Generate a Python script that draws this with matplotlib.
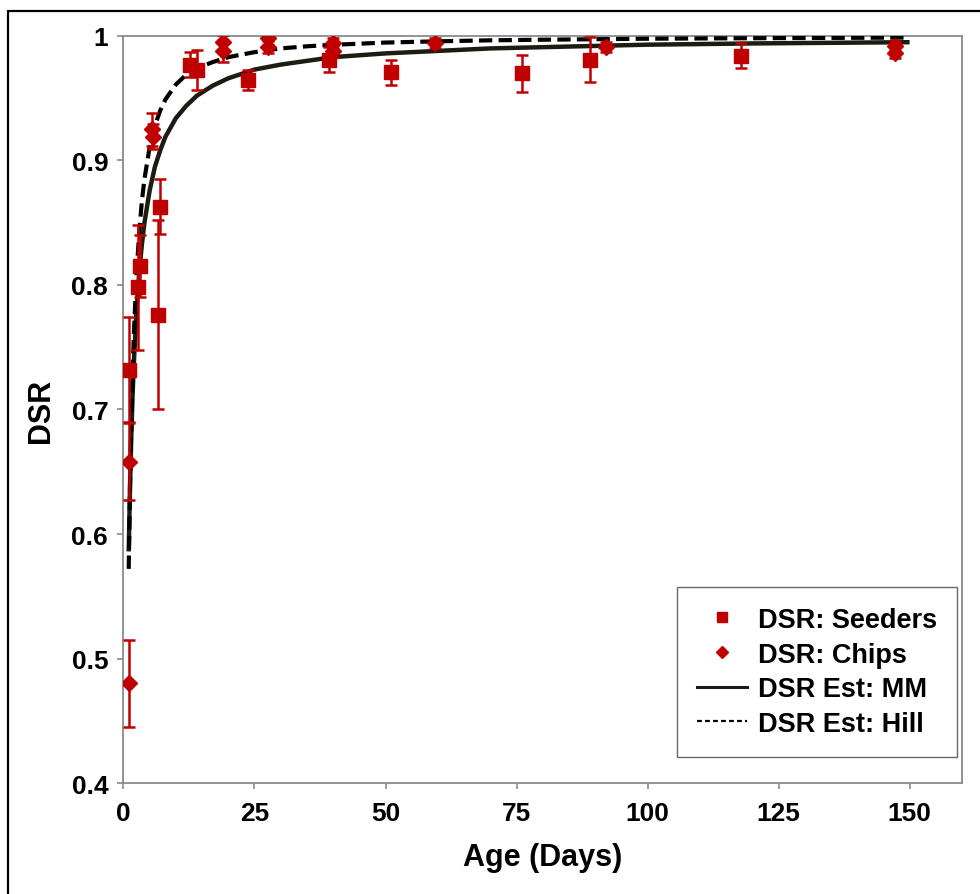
import matplotlib
matplotlib.use("Agg")
import matplotlib.pyplot as plt
from matplotlib.lines import Line2D
from matplotlib.patches import Rectangle

plt.rcParams['font.family'] = ['Liberation Sans', 'DejaVu Sans']

# Observed daily survival rate, seeders
seed_age = [1, 2.7, 3.1, 6.6, 7.0, 12.7, 14, 23.8, 39.2, 51, 76.1, 89.1, 117.8]
seed_dsr = [0.732, 0.798, 0.815, 0.776, 0.863, 0.977, 0.973, 0.965, 0.981, 0.971, 0.970, 0.981, 0.984]
seed_err = [0.042, 0.050, 0.025, 0.076, 0.022, 0.010, 0.016, 0.008, 0.010, 0.010, 0.015, 0.018, 0.010]

# Observed daily survival rate, chips
chip_age = [1, 1, 5.4, 5.6, 19, 19, 27.5, 27.5, 40, 40, 59.5, 92, 147.2, 147.2]
chip_dsr = [0.658, 0.480, 0.925, 0.919, 0.995, 0.988, 0.998, 0.991, 0.994, 0.988, 0.994, 0.991, 0.992, 0.986]
chip_err = [0.031, 0.035, 0.013, 0.010, 0.006, 0.009, 0.005, 0.005, 0.004, 0.005, 0.004, 0.004, 0.004, 0.004]

# Fitted curves (Michaelis-Menten and Hill estimates)
est_age = [1, 1.25, 1.5, 1.75, 2, 2.5, 3, 3.5, 4, 5, 6, 7, 8, 10, 12, 14, 17, 20,
           25, 30, 35, 40, 50, 60, 70, 80, 100, 120, 150]
est_mm = [0.586, 0.639, 0.680, 0.713, 0.739, 0.780, 0.810, 0.832, 0.850, 0.876, 0.895,
          0.908, 0.919, 0.934, 0.944, 0.952, 0.960, 0.966, 0.973, 0.977, 0.980, 0.983,
          0.986, 0.988, 0.990, 0.991, 0.993, 0.994, 0.995]
est_hill = [0.572, 0.639, 0.690, 0.730, 0.762, 0.810, 0.842, 0.867, 0.885, 0.911, 0.928,
            0.940, 0.949, 0.961, 0.969, 0.974, 0.979, 0.983, 0.987, 0.990, 0.9917, 0.9929,
            0.9947, 0.9957, 0.9965, 0.9970, 0.9978, 0.9982, 0.9987]

x_ticks = [0, 25, 50, 75, 100, 125, 150]
y_ticks = [0.4, 0.5, 0.6, 0.7, 0.8, 0.9, 1.0]
y_tick_labels = ['0.4', '0.5', '0.6', '0.7', '0.8', '0.9', '1']

red = '#C00000'
grey = '#8a8a8a'

fig = plt.figure(figsize=(9.8, 8.95), dpi=100)
ax = fig.add_axes([0.126, 0.124, 0.8556, 0.8347])

ax.plot(est_age, est_mm, color='#1c1c12', lw=3.2, solid_capstyle='butt', zorder=3)
ax.plot(est_age, est_hill, color='black', lw=3.0, dashes=(3.2, 1.5), zorder=3)

ax.errorbar(seed_age, seed_dsr, yerr=seed_err, fmt='s', ms=9.5, color=red,
            ecolor=red, elinewidth=1.8, capsize=4, capthick=1.8, zorder=4)
ax.errorbar(chip_age, chip_dsr, yerr=chip_err, fmt='D', ms=8.5, color=red,
            ecolor=red, elinewidth=1.8, capsize=4, capthick=1.8, zorder=4)

ax.set_xlim(0, 160)
ax.set_ylim(0.4, 1.0)
ax.set_xticks(x_ticks)
ax.set_xticklabels([str(t) for t in x_ticks])
ax.set_yticks(y_ticks)
ax.set_yticklabels(y_tick_labels)

for side in ['left', 'bottom', 'top', 'right']:
    ax.spines[side].set_color(grey)
    ax.spines[side].set_linewidth(1.3)
ax.tick_params(axis='both', direction='out', length=4, width=1.2, color=grey,
               labelsize=19)
ax.tick_params(axis='x', pad=9)
ax.tick_params(axis='y', pad=7)
for lab in ax.get_xticklabels() + ax.get_yticklabels():
    lab.set_fontweight('bold')

ax.set_xlabel('Age (Days)', fontsize=22, fontweight='bold', labelpad=12)
ax.set_ylabel('DSR', fontsize=22, fontweight='bold', labelpad=11)

handles = [
    Line2D([], [], ls='none', marker='s', ms=7, color=red),
    Line2D([], [], ls='none', marker='D', ms=6, color=red),
    Line2D([], [], color='#1c1c12', lw=2.2),
    Line2D([], [], color='black', lw=1.6, dashes=(2.2, 1.4)),
]
labels = ['DSR: Seeders', 'DSR: Chips', 'DSR Est: MM', 'DSR Est: Hill']
leg = ax.legend(handles, labels, loc='lower right', bbox_to_anchor=(0.9945, 0.0345),
                frameon=True, fancybox=False, edgecolor='#444444',
                prop={'weight': 'bold', 'size': 19.5}, handlelength=1.85,
                handletextpad=0.4, labelspacing=0.32, borderpad=0.75,
                borderaxespad=0)
leg.get_frame().set_linewidth(1.0)

# outer border around the figure
fig.patches.append(Rectangle((8 / 980, -0.02), 1.0, 1 - 12 / 895 + 0.02,
                             transform=fig.transFigure, fill=False,
                             edgecolor='black', lw=1.6))

fig.savefig('out.png', dpi=100)
